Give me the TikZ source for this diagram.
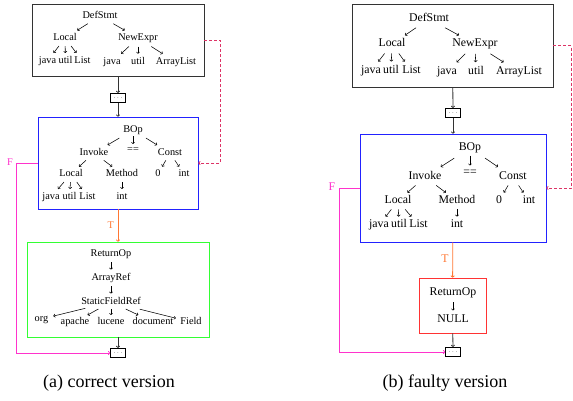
\documentclass[tikz,border=0pt]{standalone}
\usepackage{fontspec}
\setmainfont{Liberation Serif}
\usetikzlibrary{arrows.meta,calc}
\definecolor{cF}{HTML}{FF33CC}
\definecolor{cD}{HTML}{DD3366}
\definecolor{cT}{HTML}{FF7733}
\definecolor{cG}{HTML}{33FF33}
\definecolor{cR}{HTML}{FF3333}
\definecolor{cB}{HTML}{2222FF}
\definecolor{cK}{HTML}{333333}
\tikzset{
  tl/.style={inner sep=0.6pt, text height=7pt, text depth=2pt, font=\fontsize{10.3}{11}\selectfont},
  tr/.style={inner sep=0.6pt, text height=8pt, text depth=2.3pt, font=\fontsize{11.8}{12.5}\selectfont},
  ta/.style={-{To[length=2pt,width=3.6pt]}, line width=0.55pt},
  box/.style={draw=cK, line width=0.7pt, inner sep=0pt},
  dots/.style={draw=black, line width=0.6pt, minimum width=15pt, minimum height=9.5pt, inner sep=0pt, font=\fontsize{6}{6}\selectfont},
  flow/.style={-{To[length=2.2pt,width=4pt]}, line width=0.8pt},
  captext/.style={inner sep=0pt, font=\fontsize{18}{20}\selectfont}
}
\newcommand\tarr[4][0.35]{\draw[ta] ($(#2)!#1!(#3)$) -- ($(#2)!#4!(#3)$);}
\begin{document}
\begin{tikzpicture}[x=1pt,y=-1pt]
\useasboundingbox (0,0) rectangle (573,400);
% ===== left panel =====
\node[box, minimum width=172pt, minimum height=72pt] (topA) at (118,40) {};
\node[tl] (a1) at (100,16) {DefStmt};
\node[tl] (a2) at (65,38) {Local};
\node[tl] (a3) at (138,38) {NewExpr};
\node[tl] (a4) at (47.5,61) {java};
\node[tl] (a5) at (65.5,61) {util};
\node[tl] (a6) at (82.5,61) {List};
\node[tl] (a7) at (112,62.3) {java};
\node[tl] (a8) at (138,62.3) {util};
\node[tl] (a9) at (176,62.3) {ArrayList};
\foreach \p/\c in {a1/a2,a1/a3,a2/a4,a2/a5,a2/a6,a3/a7,a3/a8,a3/a9} {\tarr{\p}{\c}{0.65}}
\node[dots] (dA1) at (118,98) {$\cdots$};
\node[box, draw=cB, minimum width=160pt, minimum height=92pt] (blueA) at (118,163) {};
\node[tl] (b1) at (133,130) {BOp};
\node[tl] (b2) at (94,153) {Invoke};
\node[tl] (b3) at (133,150) {==};
\node[tl] (b4) at (170,153) {Const};
\node[tl] (b5) at (71,174) {Local};
\node[tl] (b6) at (122,174) {Method};
\node[tl] (b7) at (158,174) {0};
\node[tl] (b8) at (184,174) {int};
\node[tl] (b9) at (51,197) {java};
\node[tl] (b10) at (69.5,197) {util};
\node[tl] (b11) at (87.5,197) {List};
\node[tl] (b12) at (122,197) {int};
\foreach \p/\c in {b1/b2,b1/b4,b2/b5,b2/b6,b4/b7,b4/b8,b5/b9,b5/b10,b5/b11,b6/b12} {\tarr{\p}{\c}{0.65}}
\tarr[0.3]{b1}{b3}{0.7}
\node[box, draw=cG, minimum width=182pt, minimum height=95pt] (greenA) at (118,289.5) {};
\node[tl] (g1) at (111,254) {ReturnOp};
\node[tl] (g2) at (111,278) {ArrayRef};
\node[tl] (g3) at (111,302) {StaticFieldRef};
\node[tl] (g4) at (41.5,319) {org};
\node[tl] (g5) at (75,322) {apache};
\node[tl] (g6) at (111,322) {lucene};
\node[tl] (g7) at (153,322) {document};
\node[tl] (g8) at (191,322) {Field};
\foreach \p/\c in {g1/g2,g2/g3,g3/g5,g3/g6,g3/g7} {\tarr{\p}{\c}{0.65}}
\tarr[0.37]{g3}{g4}{0.83}
\tarr[0.36]{g3}{g8}{0.81}
\node[dots] (dA2) at (118,353) {$\cdots$};
\draw[flow, draw=cK] (topA) -- (dA1);
\draw[flow, draw=cK] (dA1) -- (blueA);
\draw[flow, draw=cT] (blueA) -- node[pos=0.5, left=3pt, text=cT, tl]{T} (greenA);
\draw[flow, draw=cK] (greenA) -- (dA2);
\draw[flow, draw=cF] (blueA.west) -- ++(-21,0) coordinate (fA) |- (dA2.west);
\node[tl, text=cF] (FA) at (10,163) {F};
\draw[flow, draw=cD, dashed, dash pattern=on 3pt off 2pt] (topA.east) -- ++(16,0) |- (blueA.east);
\node[captext] (capA) at (109,383) {(a) correct version};
% ===== right panel =====
\node[box, minimum width=201pt, minimum height=83pt] (topB) at (452.5,45.5) {};
\node[tr] (c1) at (429,19) {DefStmt};
\node[tr] (c2) at (392,44) {Local};
\node[tr] (c3) at (475,44) {NewExpr};
\node[tr] (c4) at (371,71) {java};
\node[tr] (c5) at (391,71) {util};
\node[tr] (c6) at (411.5,71) {List};
\node[tr] (c7) at (447,72) {java};
\node[tr] (c8) at (476,72) {util};
\node[tr] (c9) at (519,72) {ArrayList};
\foreach \p/\c in {c1/c2,c1/c3,c2/c4,c2/c5,c2/c6,c3/c7,c3/c8,c3/c9} {\tarr{\p}{\c}{0.65}}
\node[dots] (dB1) at (453,113) {$\cdots$};
\node[box, draw=cB, minimum width=186pt, minimum height=108pt] (blueB) at (453,188) {};
\node[tr] (e1) at (470,148) {BOp};
\node[tr] (e2) at (425,177) {Invoke};
\node[tr] (e3) at (470,173) {==};
\node[tr] (e4) at (513,177) {Const};
\node[tr] (e5) at (398,201) {Local};
\node[tr] (e6) at (457,201) {Method};
\node[tr] (e7) at (499,201) {0};
\node[tr] (e8) at (529,201) {int};
\node[tr] (e9) at (379,225) {java};
\node[tr] (e10) at (399,225) {util};
\node[tr] (e11) at (418.5,225) {List};
\node[tr] (e12) at (457,225) {int};
\foreach \p/\c in {e1/e2,e1/e4,e2/e5,e2/e6,e4/e7,e4/e8,e5/e9,e5/e10,e5/e11,e6/e12} {\tarr{\p}{\c}{0.65}}
\tarr[0.3]{e1}{e3}{0.7}
\node[box, draw=cR, minimum width=67pt, minimum height=55pt] (redB) at (452.5,305.5) {};
\node[tr] (r1) at (453,293) {ReturnOp};
\node[tr] (r2) at (453,320) {NULL};
\tarr{r1}{r2}{0.65}
\node[dots] (dB2) at (453,352) {$\cdots$};
\draw[flow, draw=cK] (topB) -- (dB1);
\draw[flow, draw=cK] (dB1) -- (blueB);
\draw[flow, draw=cT] (blueB) -- node[pos=0.5, left=3pt, text=cT, tr]{T} (redB);
\draw[flow, draw=cK] (redB) -- (dB2);
\draw[flow, draw=cF] (blueB.west) -- ++(-20,0) coordinate (fB) |- (dB2.west);
\node[tr, text=cF] (FB) at (332,188) {F};
\draw[flow, draw=cD, dashed, dash pattern=on 3pt off 2pt] (topB.east) -- ++(18,0) |- (blueB.east);
\node[captext] (capB) at (445,383) {(b) faulty version};
\end{tikzpicture}
\end{document}
